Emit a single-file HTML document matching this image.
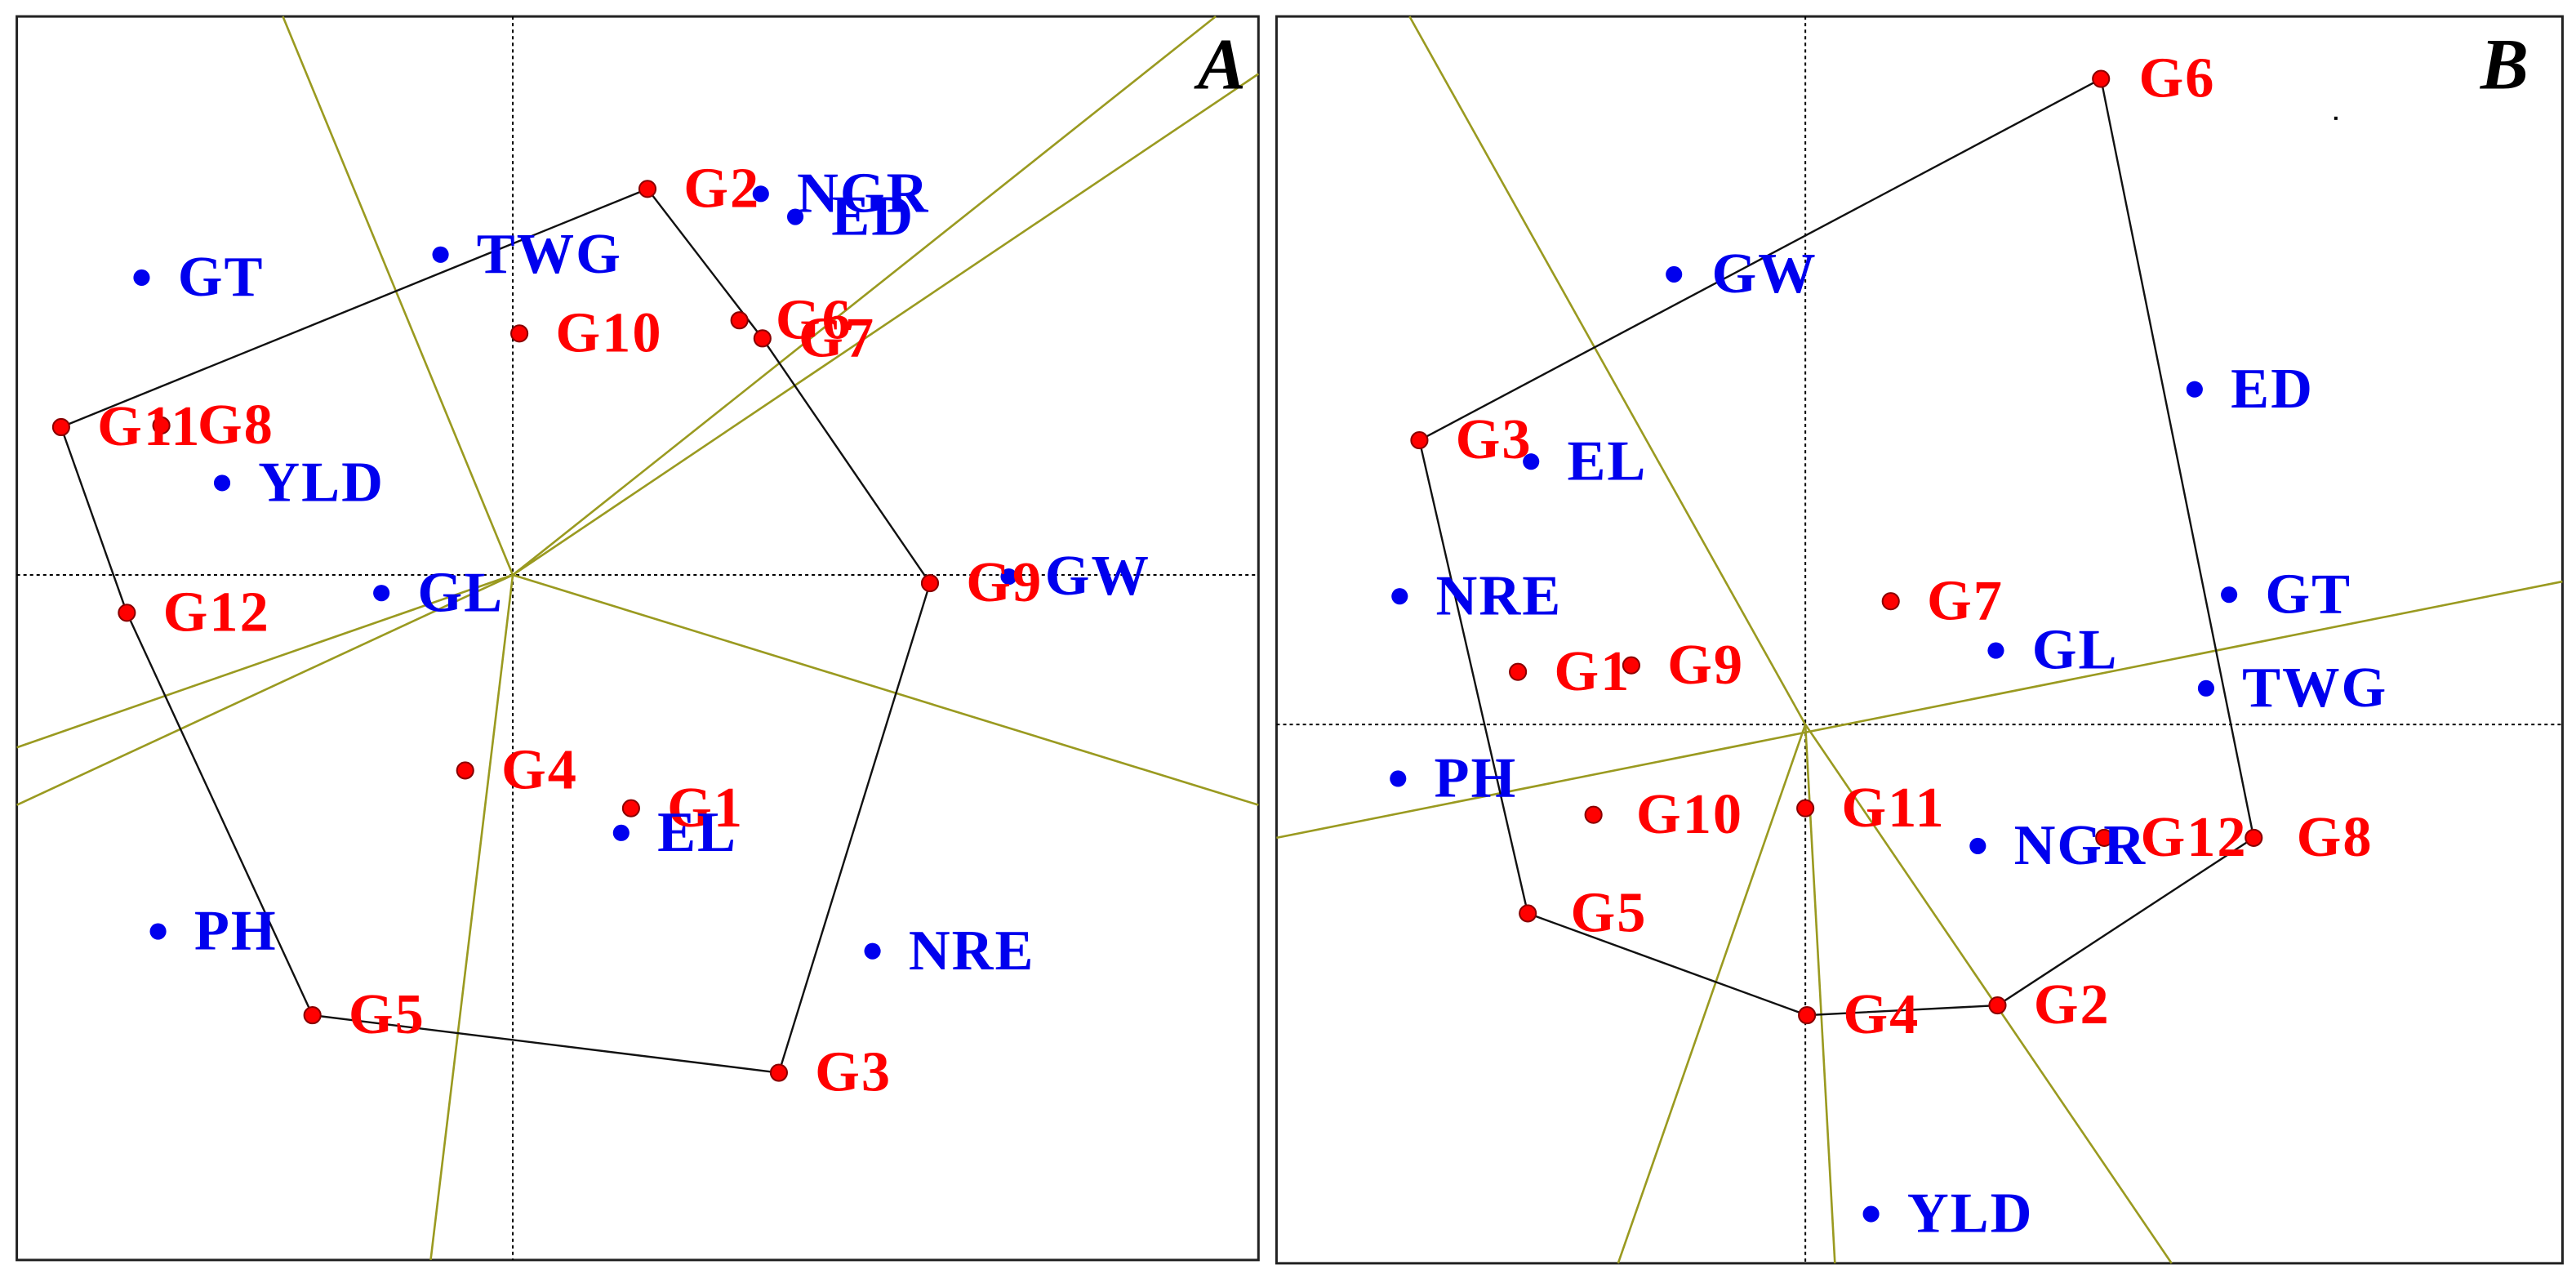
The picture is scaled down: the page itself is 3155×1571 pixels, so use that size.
<!DOCTYPE html>
<html><head><meta charset="utf-8"><style>
html,body{margin:0;padding:0;background:#fff;width:3155px;height:1571px;overflow:hidden}
svg{display:block}
text{font-family:"Liberation Serif",serif;font-weight:bold;font-size:35px;letter-spacing:1px}
.r{fill:#ff0000}.b{fill:#0000ee}
</style></head><body>
<svg width="3155" height="1571" viewBox="0 0 1568 781" xmlns="http://www.w3.org/2000/svg">
<rect x="0" y="0" width="1568" height="781" fill="#fff"/>
<!-- Panel A -->
<rect x="10" y="10" width="756" height="757" fill="#fff" stroke="#222" stroke-width="1.5"/>
<line x1="312" y1="10" x2="312" y2="767" stroke="#000" stroke-width="1" stroke-dasharray="2,2"/>
<line x1="10" y1="350" x2="766" y2="350" stroke="#000" stroke-width="1" stroke-dasharray="2,2"/>
<g stroke="#9a9a20" stroke-width="1.3">
<line x1="312" y1="350" x2="172" y2="10"/>
<line x1="312" y1="350" x2="262" y2="767"/>
<line x1="312" y1="350" x2="766" y2="490"/>
<line x1="312" y1="350" x2="740" y2="10"/>
<line x1="312" y1="350" x2="766" y2="45"/>
<line x1="312" y1="350" x2="10" y2="455"/>
<line x1="312" y1="350" x2="10" y2="490"/>
</g>
<polyline points="37,260 394,115 464,206 566,355 474,653 190,618 77,373 37,260" fill="none" stroke="#111" stroke-width="1.2"/>
<g class="r" stroke="#800" stroke-width="1">
<circle cx="394" cy="115" r="5"/><circle cx="450" cy="195" r="5"/><circle cx="464" cy="206" r="5"/>
<circle cx="316" cy="203" r="5"/><circle cx="37" cy="260" r="5"/><circle cx="98" cy="259" r="5"/>
<circle cx="77" cy="373" r="5"/><circle cx="566" cy="355" r="5"/><circle cx="283" cy="469" r="5"/>
<circle cx="384" cy="492" r="5"/><circle cx="190" cy="618" r="5"/><circle cx="474" cy="653" r="5"/>
</g>
<g class="b">
<circle cx="463" cy="118" r="5"/><circle cx="484" cy="132" r="5"/><circle cx="268" cy="155" r="5"/>
<circle cx="86" cy="169" r="5"/><circle cx="135" cy="294" r="5"/><circle cx="232" cy="361" r="5"/>
<circle cx="614" cy="351" r="5"/><circle cx="378" cy="507" r="5"/><circle cx="96" cy="567" r="5"/>
<circle cx="531" cy="579" r="5"/>
</g>
<g class="r">
<text x="416" y="126">G2</text><text x="472" y="206">G6</text><text x="486" y="217">G7</text>
<text x="338" y="214">G10</text><text x="59" y="271">G11</text><text x="120" y="270">G8</text>
<text x="99" y="384">G12</text><text x="588" y="366">G9</text><text x="305" y="480">G4</text>
<text x="406" y="503">G1</text><text x="212" y="629">G5</text><text x="496" y="664">G3</text>
</g>
<g class="b">
<text x="485" y="129">NGR</text><text x="506" y="143">ED</text><text x="290" y="166">TWG</text>
<text x="108" y="180">GT</text><text x="157" y="305">YLD</text><text x="254" y="372">GL</text>
<text x="636" y="362">GW</text><text x="400" y="518">EL</text><text x="118" y="578">PH</text>
<text x="553" y="590">NRE</text>
</g>
<text x="729" y="54" style="font-style:italic;font-size:44px;fill:#000">A</text>

<!-- Panel B -->
<rect x="777" y="10" width="783" height="759" fill="#fff" stroke="#222" stroke-width="1.5"/>
<line x1="1099" y1="10" x2="1099" y2="769" stroke="#000" stroke-width="1" stroke-dasharray="2,2"/>
<line x1="777" y1="441" x2="1560" y2="441" stroke="#000" stroke-width="1" stroke-dasharray="2,2"/>
<g stroke="#9a9a20" stroke-width="1.3">
<line x1="1099" y1="441" x2="858" y2="10"/>
<line x1="777" y1="510" x2="1560" y2="354"/>
<line x1="1099" y1="441" x2="985" y2="769"/>
<line x1="1099" y1="441" x2="1117" y2="769"/>
<line x1="1099" y1="441" x2="1322" y2="769"/>
</g>
<polyline points="1279,48 864,268 930,556 1100,618 1216,612 1372,510 1279,48" fill="none" stroke="#111" stroke-width="1.2"/>
<g class="r" stroke="#800" stroke-width="1">
<circle cx="1279" cy="48" r="5"/><circle cx="864" cy="268" r="5"/><circle cx="1151" cy="366" r="5"/>
<circle cx="924" cy="409" r="5"/><circle cx="993" cy="405" r="5"/><circle cx="970" cy="496" r="5"/>
<circle cx="1099" cy="492" r="5"/><circle cx="1281" cy="510" r="5"/><circle cx="1372" cy="510" r="5"/>
<circle cx="930" cy="556" r="5"/><circle cx="1100" cy="618" r="5"/><circle cx="1216" cy="612" r="5"/>
</g>
<g class="b">
<circle cx="1019" cy="167" r="5"/><circle cx="1336" cy="237" r="5"/><circle cx="932" cy="281" r="5"/>
<circle cx="852" cy="363" r="5"/><circle cx="1357" cy="362" r="5"/><circle cx="1215" cy="396" r="5"/>
<circle cx="1343" cy="419" r="5"/><circle cx="851" cy="474" r="5"/><circle cx="1204" cy="515" r="5"/>
<circle cx="1139" cy="739" r="5"/>
</g>
<g class="r">
<text x="1302" y="59">G6</text><text x="886" y="279">G3</text><text x="1173" y="377">G7</text>
<text x="946" y="420">G1</text><text x="1015" y="416">G9</text><text x="996" y="507">G10</text>
<text x="1121" y="503">G11</text><text x="1303" y="521">G12</text><text x="1398" y="521">G8</text>
<text x="956" y="567">G5</text><text x="1122" y="629">G4</text><text x="1238" y="623">G2</text>
</g>
<g class="b">
<text x="1042" y="178">GW</text><text x="1358" y="248">ED</text><text x="954" y="292">EL</text>
<text x="874" y="374">NRE</text><text x="1379" y="373">GT</text><text x="1237" y="407">GL</text>
<text x="1365" y="430">TWG</text><text x="873" y="485">PH</text><text x="1226" y="526">NGR</text>
<text x="1161" y="750">YLD</text>
</g>
<rect x="1421" y="71" width="2" height="2" fill="#000"/>
<text x="1510" y="54" style="font-style:italic;font-size:44px;fill:#000">B</text>
</svg>
</body></html>
